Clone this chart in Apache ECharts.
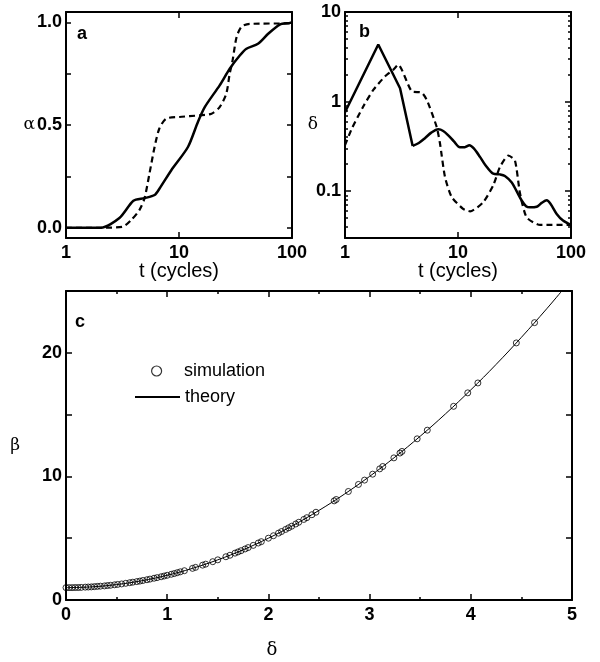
<!DOCTYPE html>
<html><head><meta charset="utf-8">
<script src="https://cdn.jsdelivr.net/npm/echarts@6/dist/echarts.min.js"></script>
<style>html,body{margin:0;padding:0;background:#fff}#c{width:600px;height:662px}</style>
</head><body><div id="c"></div>
<script>
// Panel a: alpha vs t
const tA_solid = [1, 2.04, 2.97, 3.95, 4.95, 6.08, 6.73, 8.55, 12, 14.7, 16.9, 22.9, 28.1, 34.5, 39.5, 50, 61.5, 78, 96, 100];
const alpha_solid = [0, 0, 0.047, 0.131, 0.144, 0.159, 0.191, 0.28, 0.393, 0.515, 0.587, 0.693, 0.774, 0.838, 0.871, 0.895, 0.944, 0.989, 0.997, 1.0];
const tA_dash = [1, 2.1, 3.18, 3.77, 4.46, 4.95, 5.48, 6.08, 6.7, 7.7, 10.1, 15.2, 19.4, 22.9, 26.2, 28.1, 29.8, 32.3, 35.8, 42.2, 96, 100];
const alpha_dash = [0, 0, 0.005, 0.037, 0.086, 0.143, 0.264, 0.393, 0.483, 0.531, 0.539, 0.547, 0.555, 0.587, 0.652, 0.75, 0.814, 0.927, 0.979, 0.992, 0.995, 1.0];
// Panel b: delta vs t (solid: sharp rise/fall, then waves)
const tB_solid_head = [1, 1.97, 3.07, 3.97];
const delta_solid_head = [0.76, 4.34, 1.41, 0.32];
const tB_solid_tail = [3.97, 4.5, 5.1, 5.8, 6.7, 7.4, 8.2, 9.2, 10.4, 11.5, 12.6, 13.8, 15.7, 17.5, 20.5, 23.5, 26, 29.9, 33, 36.6, 40, 43.4, 49.7, 55, 61, 66, 74.7, 85, 100];
const delta_solid_tail = [0.32, 0.345, 0.39, 0.45, 0.49, 0.47, 0.42, 0.36, 0.31, 0.31, 0.325, 0.30, 0.24, 0.195, 0.157, 0.154, 0.148, 0.125, 0.1, 0.0787, 0.068, 0.066, 0.067, 0.074, 0.079, 0.072, 0.0557, 0.047, 0.042];
const tB_dash = [1, 1.15, 1.45, 1.78, 2.26, 2.68, 2.96, 3.9, 4.77, 5.3, 6.48, 6.93, 7.67, 8.79, 11.1, 12.8, 16.7, 20.5, 23.5, 27.9, 31.9, 35.4, 40.5, 53.2, 100];
const delta_dash = [0.326, 0.5, 0.88, 1.35, 1.91, 2.27, 2.58, 1.3, 1.26, 1.04, 0.52, 0.34, 0.144, 0.086, 0.0634, 0.0596, 0.075, 0.116, 0.186, 0.25, 0.22, 0.094, 0.051, 0.042, 0.042];
// Panel c: beta vs delta
const sim_delta = [0.00,0.03,0.06,0.09,0.12,0.15,0.19,0.22,0.25,0.28,0.31,0.34,0.38,0.41,0.44,0.48,0.51,0.55,0.59,0.63,0.66,0.70,0.73,0.76,0.80,0.83,0.87,0.90,0.94,0.97,1.00,1.04,1.07,1.10,1.13,1.17,1.25,1.28,1.35,1.38,1.45,1.50,1.58,1.62,1.67,1.70,1.73,1.77,1.80,1.85,1.90,1.93,2.00,2.05,2.10,2.13,2.17,2.20,2.23,2.27,2.30,2.35,2.38,2.43,2.47,2.65,2.67,2.79,2.89,2.95,3.03,3.10,3.13,3.24,3.30,3.32,3.47,3.57,3.83,3.97,4.07,4.45,4.63];
const sim_beta = [1.00,1.00,1.00,1.01,1.01,1.02,1.04,1.05,1.06,1.08,1.10,1.12,1.14,1.17,1.19,1.23,1.26,1.30,1.35,1.40,1.44,1.49,1.53,1.58,1.64,1.69,1.76,1.81,1.88,1.94,2.00,2.08,2.14,2.21,2.28,2.37,2.56,2.64,2.82,2.90,3.10,3.25,3.50,3.62,3.79,3.89,3.99,4.13,4.24,4.42,4.61,4.72,5.00,5.20,5.41,5.54,5.71,5.84,5.97,6.15,6.29,6.52,6.66,6.90,7.10,8.02,8.13,8.78,9.35,9.70,10.18,10.61,10.80,11.50,11.89,12.02,13.04,13.74,15.67,16.76,17.56,20.80,22.44];
const th_delta = [0,0.25,0.5,0.75,1,1.25,1.5,1.75,2,2.25,2.5,2.75,3,3.25,3.5,3.75,4,4.25,4.5,4.75,4.9];
const th_beta = [1,1.06,1.25,1.56,2,2.56,3.25,4.06,5,6.06,7.25,8.56,10,11.56,13.25,15.06,17,19.06,21.25,23.56,25.01];
// ticks
const aTicks = [0, 0.25, 0.5, 0.75, 1.0];
const aLabels = [0, 0.5, 1.0];
const bMajor = [0.1, 1, 10];
const bMinor = [0.03,0.04,0.05,0.06,0.07,0.08,0.09,0.2,0.3,0.4,0.5,0.6,0.7,0.8,0.9,2,3,4,5,6,7,8,9];
const bMin = 0.03, bMax = 10;

const zip = (a, b) => a.map((v, i) => [v, b[i]]);
const SANS = 'Liberation Sans';
const lblStyle = {color: '#000', fontFamily: SANS, fontWeight: 'bold', fontSize: 18};
function ax(o) { return Object.assign({axisLine: {show: true, onZero: false, lineStyle: {color: '#000', width: 2}}, splitLine: {show: false}, nameMoveOverlap: false}, o); }
const tickIn = (len) => ({show: true, inside: true, length: len, lineStyle: {color: '#000', width: 1.5}});
const noLbl = {show: false};
// tick-only axis in log10 space for the log minor ticks of panel b
function bMinorAxis(pos) {
  return {type: 'value', gridIndex: 1, position: pos, min: Math.log10(bMin), max: Math.log10(bMax),
    axisLine: {show: false}, splitLine: {show: false}, axisLabel: noLbl,
    axisTick: Object.assign(tickIn(3), {customValues: bMinor.map(Math.log10)})};
}

const chart = echarts.init(document.getElementById('c'), null, {renderer: 'canvas'});
chart.setOption({
  animation: false,
  backgroundColor: '#fff',
  title: [
    {text: 'a', left: 72, top: 20, textStyle: {fontFamily: SANS, fontWeight: 'bold', fontSize: 18, color: '#000'}},
    {text: 'b', left: 354, top: 18, textStyle: {fontFamily: SANS, fontWeight: 'bold', fontSize: 18, color: '#000'}},
    {text: 'c', left: 70, top: 308, textStyle: {fontFamily: SANS, fontWeight: 'bold', fontSize: 18, color: '#000'}}
  ],
  legend: [
    {data: ['simulation'], left: 146, top: 357, itemWidth: 45, itemHeight: 10,
     itemStyle: {borderColor: '#000', borderWidth: 1.2},
     textStyle: {fontFamily: SANS, fontSize: 18, color: '#000'}},
    {data: ['theory'], left: 129, top: 383, itemWidth: 45, itemHeight: 2,
     textStyle: {fontFamily: SANS, fontSize: 18, color: '#000'}}
  ],
  grid: [
    {left: 66, top: 12, width: 226, height: 226},
    {left: 345, top: 12, width: 226, height: 226},
    {left: 66, top: 291, width: 506, height: 309}
  ],
  xAxis: [
    ax({type: 'log', gridIndex: 0, min: 1, max: 100, position: 'bottom', axisTick: tickIn(6), axisLabel: Object.assign({margin: 6}, lblStyle),
        name: 't (cycles)', nameLocation: 'middle', nameGap: 23, nameTextStyle: {fontFamily: SANS, fontSize: 20, color: '#000'}}),
    ax({type: 'log', gridIndex: 0, min: 1, max: 100, position: 'top', axisTick: tickIn(6), axisLabel: noLbl}),
    ax({type: 'log', gridIndex: 1, min: 1, max: 100, position: 'bottom', axisTick: tickIn(6), axisLabel: Object.assign({margin: 6}, lblStyle),
        name: 't (cycles)', nameLocation: 'middle', nameGap: 23, nameTextStyle: {fontFamily: SANS, fontSize: 20, color: '#000'}}),
    ax({type: 'log', gridIndex: 1, min: 1, max: 100, position: 'top', axisTick: tickIn(6), axisLabel: noLbl}),
    ax({type: 'value', gridIndex: 2, min: 0, max: 5, interval: 1, position: 'bottom', axisTick: tickIn(6),
        minorTick: {show: true, splitNumber: 2, length: 3, lineStyle: {color: '#000', width: 1.5}},
        axisLabel: Object.assign({margin: 6}, lblStyle),
        name: 'δ', nameLocation: 'middle', nameGap: 41, nameTextStyle: {fontFamily: 'DejaVu Serif', fontSize: 18, color: '#000', padding: [0, 94, 0, 0]}}),
    ax({type: 'value', gridIndex: 2, min: 0, max: 5, interval: 1, position: 'top', axisTick: tickIn(6),
        minorTick: {show: true, splitNumber: 2, length: 3, lineStyle: {color: '#000', width: 1.5}}, axisLabel: noLbl})
  ],
  yAxis: [
    ax({type: 'value', gridIndex: 0, min: -0.05, max: 1.05, position: 'left',
        axisTick: Object.assign(tickIn(5), {customValues: aTicks}),
        axisLabel: Object.assign({margin: 4, customValues: aLabels, formatter: v => Number(v).toFixed(1)}, lblStyle),
        name: 'α', nameLocation: 'middle', nameRotate: 0, nameGap: 31, nameTextStyle: {fontFamily: 'DejaVu Serif', fontSize: 17, color: '#000'}}),
    ax({type: 'value', gridIndex: 0, min: -0.05, max: 1.05, position: 'right',
        axisTick: Object.assign(tickIn(5), {customValues: aTicks}), axisLabel: noLbl}),
    ax({type: 'log', gridIndex: 1, min: bMin, max: bMax, position: 'left',
        axisTick: Object.assign(tickIn(6), {customValues: bMajor}),
        axisLabel: Object.assign({margin: 4, customValues: bMajor, formatter: v => String(Number(Number(v).toPrecision(2)))}, lblStyle),
        name: 'δ', nameLocation: 'middle', nameRotate: 0, nameGap: 27, nameTextStyle: {fontFamily: 'DejaVu Serif', fontSize: 17, color: '#000'}}),
    ax({type: 'log', gridIndex: 1, min: bMin, max: bMax, position: 'right',
        axisTick: Object.assign(tickIn(6), {customValues: bMajor}), axisLabel: noLbl}),
    bMinorAxis('left'),
    bMinorAxis('right'),
    ax({type: 'value', gridIndex: 2, min: 0, max: 25, interval: 5, position: 'left', axisTick: tickIn(6),
        axisLabel: Object.assign({margin: 4, formatter: v => (v % 10 === 0 ? String(v) : '')}, lblStyle),
        name: 'β', nameLocation: 'middle', nameRotate: 0, nameGap: 46, nameTextStyle: {fontFamily: 'DejaVu Serif', fontSize: 17, color: '#000', padding: [0, 0, 28, 0]}}),
    ax({type: 'value', gridIndex: 2, min: 0, max: 25, interval: 5, position: 'right', axisTick: tickIn(6), axisLabel: noLbl})
  ],
  series: [
    {type: 'line', xAxisIndex: 0, yAxisIndex: 0, data: zip(tA_solid, alpha_solid), symbol: 'none', smooth: 0.25, lineStyle: {color: '#000', width: 2.5}},
    {type: 'line', xAxisIndex: 0, yAxisIndex: 0, data: zip(tA_dash, alpha_dash), symbol: 'none', smooth: 0.25, lineStyle: {color: '#000', width: 2.2, type: [6, 4]}},
    {type: 'line', xAxisIndex: 2, yAxisIndex: 2, data: zip(tB_solid_head, delta_solid_head), symbol: 'none', smooth: false, lineStyle: {color: '#000', width: 2.5}},
    {type: 'line', xAxisIndex: 2, yAxisIndex: 2, data: zip(tB_solid_tail, delta_solid_tail), symbol: 'none', smooth: 0.3, lineStyle: {color: '#000', width: 2.5}},
    {type: 'line', xAxisIndex: 2, yAxisIndex: 2, data: zip(tB_dash, delta_dash), symbol: 'none', smooth: 0.2, lineStyle: {color: '#000', width: 2.2, type: [6, 4]}},
    {name: 'theory', type: 'line', xAxisIndex: 4, yAxisIndex: 6, data: zip(th_delta, th_beta), symbol: 'none', smooth: 0.4, clip: true, lineStyle: {color: '#000', width: 1}, itemStyle: {color: '#000'}},
    {name: 'simulation', type: 'scatter', xAxisIndex: 4, yAxisIndex: 6, data: zip(sim_delta, sim_beta), symbol: 'circle', symbolSize: 6,
     itemStyle: {color: 'rgba(0,0,0,0)', borderColor: '#000', borderWidth: 1}}
  ]
});
</script>
</body></html>
